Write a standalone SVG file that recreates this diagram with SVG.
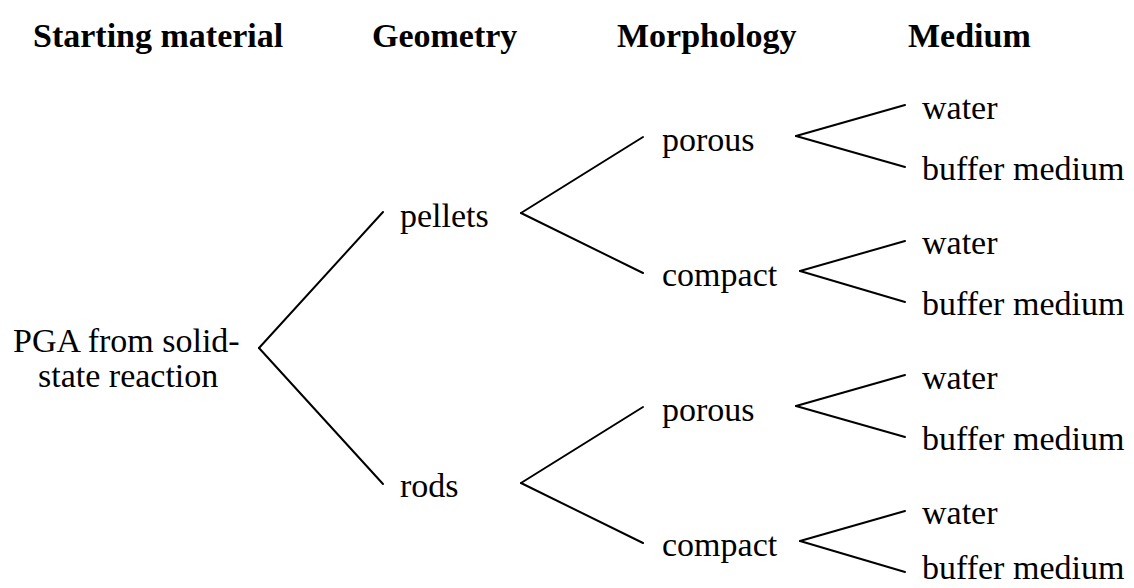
<svg xmlns="http://www.w3.org/2000/svg" width="1134" height="588" viewBox="0 0 1134 588">
<style>
text{font-family:'Liberation Serif','Tinos','DejaVu Serif','Noto Serif',serif;font-size:34px;fill:#000}
.h{font-weight:bold}
line{stroke:#000;stroke-width:2;stroke-linecap:round}
</style>
<rect width="1134" height="588" fill="#fff"/>
<g id="headers">
<text class="h" x="33" y="47">Starting material</text>
<text class="h" x="372" y="47">Geometry</text>
<text class="h" x="617" y="47">Morphology</text>
<text class="h" x="908" y="47">Medium</text>
</g>
<g id="connectors">
<line x1="259" y1="348" x2="383" y2="212"/>
<line x1="259" y1="348" x2="383" y2="484"/>
<line x1="521" y1="213" x2="643" y2="137"/>
<line x1="521" y1="213" x2="643" y2="273"/>
<line x1="521" y1="483" x2="643" y2="407"/>
<line x1="521" y1="483" x2="643" y2="543"/>
<line x1="796" y1="136" x2="905" y2="105"/>
<line x1="796" y1="136" x2="905" y2="167"/>
<line x1="800" y1="271" x2="905" y2="241"/>
<line x1="800" y1="271" x2="905" y2="302"/>
<line x1="796" y1="406" x2="905" y2="375"/>
<line x1="796" y1="406" x2="905" y2="437"/>
<line x1="800" y1="541" x2="905" y2="511"/>
<line x1="800" y1="541" x2="905" y2="572"/>
</g>
<g id="root"><text x="13" y="352">PGA from solid-</text><text x="38" y="387">state reaction</text></g>
<g id="pellets"><text x="400" y="227">pellets</text></g>
<g id="rods"><text x="400" y="497">rods</text></g>
<g id="porous1"><text x="662" y="151">porous</text></g>
<g id="compact1"><text x="662" y="286">compact</text></g>
<g id="porous2"><text x="662" y="421">porous</text></g>
<g id="compact2"><text x="662" y="556">compact</text></g>
<g id="water1"><text x="922" y="119">water</text></g>
<g id="buffer1"><text x="922" y="180">buffer medium</text></g>
<g id="water2"><text x="922" y="254">water</text></g>
<g id="buffer2"><text x="922" y="315">buffer medium</text></g>
<g id="water3"><text x="922" y="389">water</text></g>
<g id="buffer3"><text x="922" y="450">buffer medium</text></g>
<g id="water4"><text x="922" y="524">water</text></g>
<g id="buffer4"><text x="922" y="579">buffer medium</text></g>
</svg>
